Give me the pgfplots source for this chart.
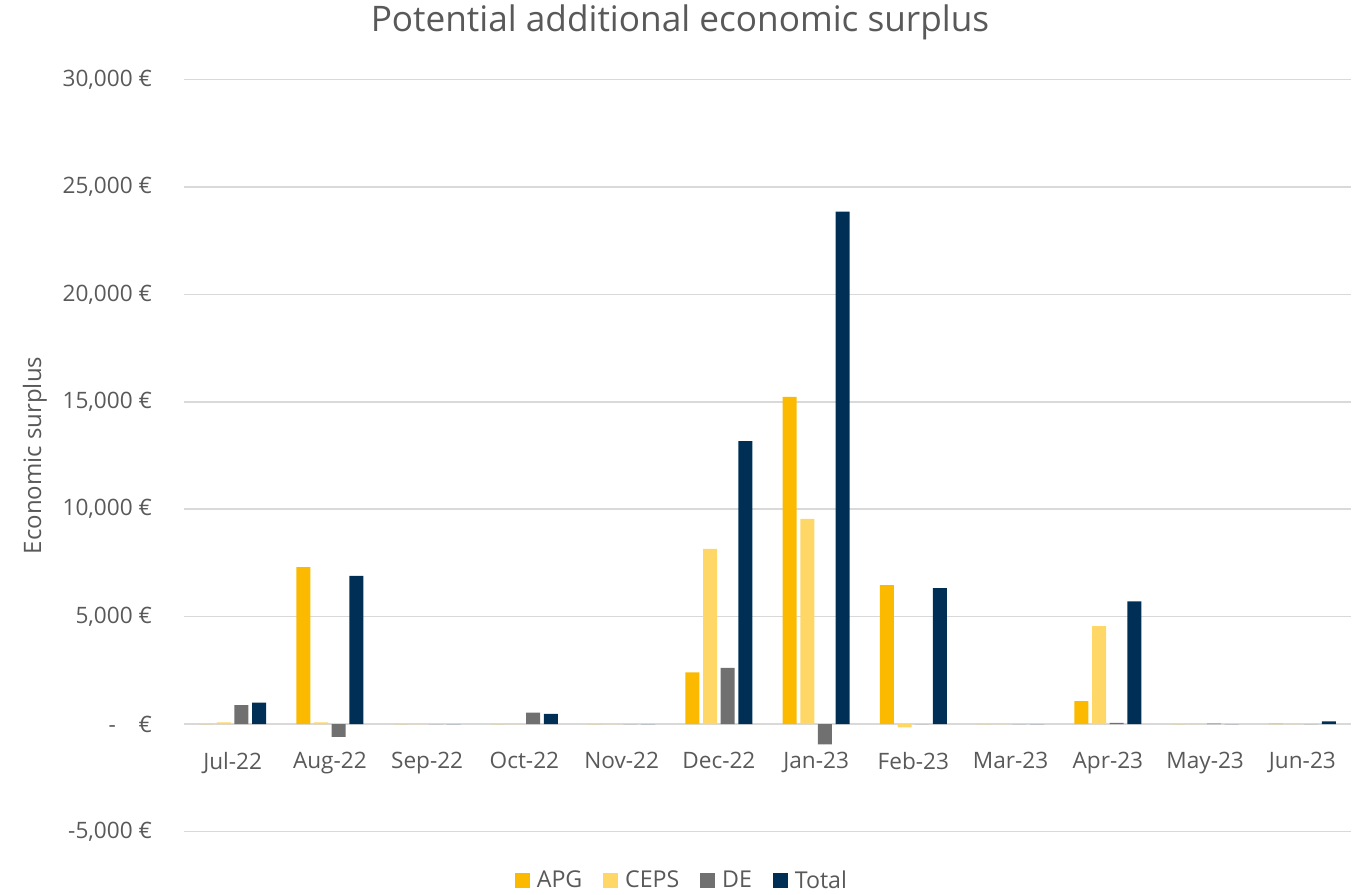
\documentclass[border=0pt]{standalone}
\usepackage{pgfplots}
\usepackage{pgfplotstable}
\pgfplotsset{compat=1.18}
\usepackage{fontspec}
\setmainfont{Open Sans}
\definecolor{apg}{HTML}{FBBA00}
\definecolor{ceps}{HTML}{FED766}
\definecolor{de}{HTML}{707070}
\definecolor{tot}{HTML}{002F56}
\definecolor{txt}{HTML}{595959}
\definecolor{grd}{HTML}{D9D9D9}

\pgfplotstableread{
x apg ceps de total
0 0 80 880 1000
1 7310 80 -590 6900
2 0 0 0 0
3 0 20 530 480
4 0 0 0 0
5 2410 8150 2620 13170
6 15230 9550 -950 23850
7 6470 -150 0 6330
8 0 0 0 0
9 1070 4560 50 5710
10 0 20 20 0
11 20 20 0 120
}\data

\pgfplotsset{sq/.style={legend image code/.code={\fill[##1,draw=none] (0pt,-3.7pt) rectangle (7.4pt,3.7pt);}}}

\begin{document}
\begin{tikzpicture}
\begin{axis}[name=ax, scale only axis, width=583.5pt, height=376pt,
  xmin=-0.5, xmax=11.5, ymin=-5000, ymax=30000,
  scaled y ticks=false,
  axis x line=middle, axis y line=left,
  x axis line style={-, draw=grd, line width=0.75pt},
  y axis line style={draw=none},
  hide obscured x ticks=false, hide obscured y ticks=false,
  ymajorgrids, grid style={draw=grd, line width=0.75pt},
  major tick length=0pt,
  xtick={0,1,...,11},
  xticklabels={Jul-22,Aug-22,Sep-22,Oct-22,Nov-22,Dec-22,Jan-23,Feb-23,Mar-23,Apr-23,May-23,Jun-23},
  ytick={-5000,0,5000,10000,15000,20000,25000,30000},
  yticklabels={{-5,000 €},{-\hspace{1.0em}€},{5,000 €},{10,000 €},{15,000 €},{20,000 €},{25,000 €},{30,000 €}},
  ticklabel style={font=\fontsize{11.3}{13}\selectfont, text=txt},
  yticklabel style={xshift=-12.5pt},
  xticklabel style={yshift=-10.5pt},
  title={Potential additional economic surplus},
  title style={at={(0.425,1.06)}, anchor=center, font=\fontsize{17.6}{21}\selectfont, text=txt},
  ylabel={Economic surplus},
  ylabel style={at={(axis description cs:-0.1277,0.5)}, anchor=center, font=\fontsize{12}{14}\selectfont, text=txt},
  legend style={at={(0.4276,-0.0655)}, anchor=center, draw=none, legend columns=4,
    font=\fontsize{11.6}{13}\selectfont, text=txt,
    /tikz/every even column/.append style={column sep=8.5pt},
    /tikz/every odd column/.append style={column sep=1.5pt}},
]
\addplot[ybar, bar width=0.144, bar shift=-0.273, fill=apg, draw=none, sq] table[x=x,y=apg]{\data};
\addplot[ybar, bar width=0.144, bar shift=-0.091, fill=ceps, draw=none, sq] table[x=x,y=ceps]{\data};
\addplot[ybar, bar width=0.144, bar shift=0.091, fill=de, draw=none, sq] table[x=x,y=de]{\data};
\addplot[ybar, bar width=0.144, bar shift=0.273, fill=tot, draw=none, sq] table[x=x,y=total]{\data};
\legend{APG,CEPS,DE,Total}
\end{axis}
\pgfresetboundingbox
\path ([xshift=-92pt,yshift=-31.6pt]ax.south west) rectangle ([xshift=1.5pt,yshift=39.75pt]ax.north east);
\end{tikzpicture}
\end{document}
